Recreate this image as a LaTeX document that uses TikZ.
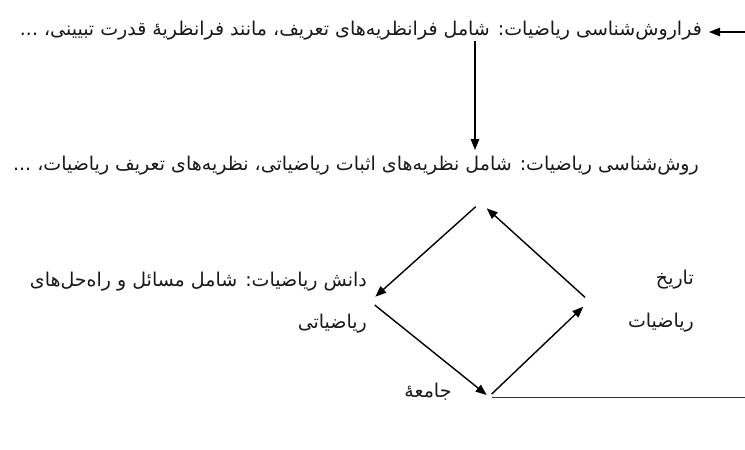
\documentclass[tikz,border=0pt]{standalone}
\usepackage{fontspec}
\newfontfamily\arabicfont[Script=Arabic]{DejaVu Sans}
\TeXXeTstate=1
\usetikzlibrary{arrows.meta}
\tikzset{
  lbl/.style={font=\arabicfont\fontsize{19}{23}\selectfont, text=black!90, inner sep=0pt},
  arr/.style={line width=1.4pt, -{Triangle[length=11pt,width=8.5pt]}},
  ln/.style={line width=1.4pt}
}
\begin{document}
\begin{tikzpicture}[x=1pt,y=-1pt]
\useasboundingbox (0,0) rectangle (745,450);
% texts
\node[lbl, anchor=east] (meta) at (702,31) {\beginR فراروش‌شناسی ریاضیات: شامل فرانظریه‌های تعریف، مانند فرانظریهٔ قدرت تبیینی، ...\endR};
\node[lbl, anchor=east] (meth) at (699,166) {\beginR روش‌شناسی ریاضیات: شامل نظریه‌های اثبات ریاضیاتی، نظریه‌های تعریف ریاضیات، ...\endR};
\node[lbl, anchor=east] (knowa) at (367,282) {\beginR دانش ریاضیات: شامل مسائل و راه‌حل‌های\endR};
\node[lbl, anchor=east] (knowb) at (367,324) {\beginR ریاضیاتی\endR};
\node[lbl, anchor=east] (hista) at (694,280) {\beginR تاریخ\endR};
\node[lbl, anchor=east] (histb) at (694,323) {\beginR ریاضیات\endR};
\node[lbl] (soc) at (428,392) {\beginR جامعهٔ\endR};
% connector points
\coordinate (in) at (745,32);
\coordinate (metaend) at (709,32);
\coordinate (v1) at (475,41);
\coordinate (v2) at (475,150);
\coordinate (a1) at (475.7,206.7);
\coordinate (a2) at (375.3,296.7);
\coordinate (b1) at (374.7,305);
\coordinate (b2) at (486.7,395);
\coordinate (c1) at (491.7,394);
\coordinate (c2) at (583.3,306.7);
\coordinate (d1) at (585,297.3);
\coordinate (d2) at (486.7,208.3);
\coordinate (e1) at (491.7,397.5);
\coordinate (e2) at (745,397.5);
% connectors
\draw[arr] (in) -- (metaend);
\draw[arr] (v1) -- (v2);
\draw[arr] (a1) -- (a2);
\draw[arr] (b1) -- (b2);
\draw[arr] (c1) -- (c2);
\draw[arr] (d1) -- (d2);
\draw[ln, black!80] (e1) -- (e2);
\end{tikzpicture}
\end{document}
